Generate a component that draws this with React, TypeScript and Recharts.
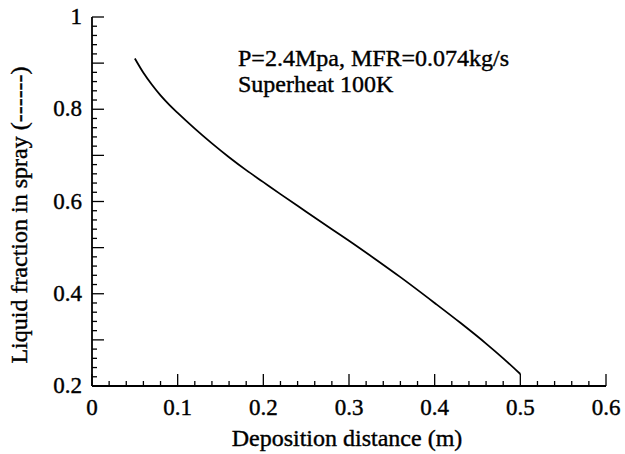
import React from 'react';
import { LineChart, Line, XAxis, YAxis } from 'recharts';

const distance = [0.05, 0.06, 0.07, 0.08, 0.09, 0.1, 0.12, 0.14, 0.16, 0.18, 0.2, 0.22, 0.25, 0.28, 0.3, 0.33, 0.36, 0.4, 0.43, 0.46, 0.48, 0.5];
const liquidFraction = [0.91, 0.879, 0.853, 0.83, 0.81, 0.792, 0.758, 0.726, 0.696, 0.668, 0.642, 0.616, 0.578, 0.54, 0.515, 0.476, 0.436, 0.38, 0.337, 0.292, 0.26, 0.226];

const xTicks = [0, 0.02, 0.04, 0.06, 0.08, 0.1, 0.12, 0.14, 0.16, 0.18, 0.2, 0.22, 0.24, 0.26, 0.28, 0.3, 0.32, 0.34, 0.36, 0.38, 0.4, 0.42, 0.44, 0.46, 0.48, 0.5, 0.52, 0.54, 0.56, 0.58, 0.6];
const yTicks = [0.2, 0.22, 0.24, 0.26, 0.28, 0.3, 0.32, 0.34, 0.36, 0.38, 0.4, 0.42, 0.44, 0.46, 0.48, 0.5, 0.52, 0.54, 0.56, 0.58, 0.6, 0.62, 0.64, 0.66, 0.68, 0.7, 0.72, 0.74, 0.76, 0.78, 0.8, 0.82, 0.84, 0.86, 0.88, 0.9, 0.92, 0.94, 0.96, 0.98, 1];
const xLabels: Record<number, string> = { 0: '0', 10: '0.1', 20: '0.2', 30: '0.3', 40: '0.4', 50: '0.5', 60: '0.6' };
const yLabels: Record<number, string> = { 20: '0.2', 40: '0.4', 60: '0.6', 80: '0.8', 100: '1' };

const annotationLines = ['P=2.4Mpa, MFR=0.074kg/s', 'Superheat 100K'];
const xTitle = 'Deposition distance (m)';
const yTitle = 'Liquid fraction in spray (------)';

const data = distance.map((d, i) => ({ d, f: liquidFraction[i] }));

const FONT = 'Liberation Serif, Times New Roman, DejaVu Serif, serif';
const txt = { fontFamily: FONT } as React.CSSProperties;
const MAJOR = 12;
const MINOR = 5;

const BottomTick = (props: any) => {
  const { x, y, payload } = props;
  const k = Math.round(payload.value * 100);
  const major = k % 10 === 0;
  return (
    <g>
      <line x1={x} x2={x} y1={y} y2={y - (major ? MAJOR : MINOR)} stroke="#000" strokeWidth={1.3} />
      {xLabels[k] !== undefined && (
        <text x={x} y={y + 29} textAnchor="middle" fontSize={23} style={txt} fill="#000" stroke="#000" strokeWidth={0.4}>{xLabels[k]}</text>
      )}
    </g>
  );
};

const TopTick = (props: any) => {
  const { x, y, payload } = props;
  const k = Math.round(payload.value * 100);
  const major = k % 10 === 0;
  return <line x1={x} x2={x} y1={y} y2={y + (major ? MAJOR : MINOR)} stroke="#000" strokeWidth={1.3} />;
};

const LeftTick = (props: any) => {
  const { x, y, payload } = props;
  const k = Math.round(payload.value * 100);
  const major = k % 10 === 0;
  return (
    <g>
      <line x1={x} x2={x + (major ? MAJOR : MINOR)} y1={y} y2={y} stroke="#000" strokeWidth={1.3} />
      {yLabels[k] !== undefined && (
        <text x={x - 10} y={y + 7} textAnchor="end" fontSize={23} style={txt} fill="#000" stroke="#000" strokeWidth={0.4}>{yLabels[k]}</text>
      )}
    </g>
  );
};

const RightTick = (props: any) => {
  const { x, y, payload } = props;
  const k = Math.round(payload.value * 100);
  const major = k % 10 === 0;
  return <line x1={x} x2={x - (major ? MAJOR : MINOR)} y1={y} y2={y} stroke="#000" strokeWidth={1.3} />;
};

export default function App() {
  return (
    <div style={{ position: 'absolute', left: 0, top: 0, width: 625, height: 454, background: '#fff' }}>
      <LineChart width={625} height={454} data={data} margin={{ top: 17, right: 19, bottom: 18, left: 32 }}>
        <XAxis
          dataKey="d"
          type="number"
          domain={[0, 0.6]}
          ticks={xTicks}
          interval={0}
          tickSize={0}
          tickMargin={0}
          tickLine={false}
          tick={<BottomTick />}
          height={50}
          axisLine={{ stroke: '#000', strokeWidth: 1.8 }}
        />
        <XAxis
          xAxisId="top"
          orientation="top"
          type="number"
          domain={[0, 0.6]}
          ticks={xTicks}
          interval={0}
          tickSize={0}
          tickMargin={0}
          tickLine={false}
          tick={<TopTick />}
          height={0}
          axisLine={{ stroke: '#000', strokeWidth: 1.8 }}
        />
        <YAxis
          type="number"
          domain={[0.2, 1]}
          ticks={yTicks}
          interval={0}
          tickSize={0}
          tickMargin={0}
          tickLine={false}
          tick={<LeftTick />}
          width={60}
          axisLine={{ stroke: '#000', strokeWidth: 1.8 }}
        />
        <YAxis
          yAxisId="right"
          orientation="right"
          type="number"
          domain={[0.2, 1]}
          ticks={yTicks}
          interval={0}
          tickSize={0}
          tickMargin={0}
          tickLine={false}
          tick={<RightTick />}
          width={0}
          axisLine={{ stroke: '#000', strokeWidth: 1.8 }}
        />
        <Line
          dataKey="f"
          type="monotone"
          stroke="#000"
          strokeWidth={1.8}
          dot={false}
          isAnimationActive={false}
        />
      </LineChart>
      <svg width={625} height={454} style={{ position: 'absolute', left: 0, top: 0, pointerEvents: 'none' }}>
        <text x={238} y={66} fontSize={24} style={txt} fill="#000" stroke="#000" strokeWidth={0.4}>{annotationLines[0]}</text>
        <text x={238} y={92} fontSize={24} style={txt} fill="#000" stroke="#000" strokeWidth={0.4}>{annotationLines[1]}</text>
        <text x={347} y={446} textAnchor="middle" fontSize={24} style={txt} fill="#000" stroke="#000" strokeWidth={0.4}>{xTitle}</text>
        <text x={0} y={0} transform="translate(27, 215) rotate(-90)" textAnchor="middle" fontSize={24} style={txt} fill="#000" stroke="#000" strokeWidth={0.4}>{yTitle}</text>
      </svg>
    </div>
  );
}
